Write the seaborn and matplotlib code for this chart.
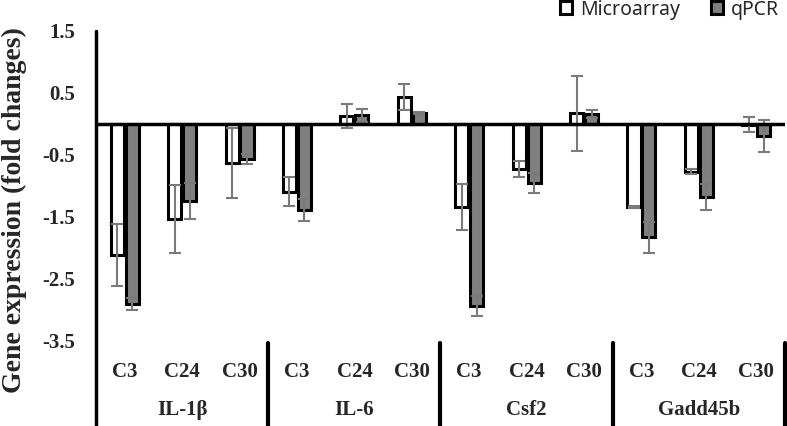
import matplotlib
matplotlib.use("Agg")
import matplotlib.pyplot as plt
import seaborn as sns
import pandas as pd
import numpy as np

# data
genes = ["IL-1β", "IL-6", "Csf2", "Gadd45b"]
times = ["C3", "C24", "C30"]
microarray = [-2.12, -1.53, -0.63, -1.09, 0.13, 0.43, -1.34, -0.73, 0.17, -1.34, -0.77, -0.01]
microarray_err = [0.50, 0.55, 0.56, 0.23, 0.20, 0.21, 0.37, 0.13, 0.60, 0.02, 0.04, 0.12]
qpcr = [-2.90, -1.24, -0.57, -1.39, 0.14, 0.18, -2.94, -0.95, 0.16, -1.83, -1.17, -0.19]
qpcr_err = [0.10, 0.29, 0.08, 0.18, 0.10, 0.02, 0.16, 0.16, 0.06, 0.25, 0.21, 0.26]

keys = [g + " " + t for g in genes for t in times]
df = pd.DataFrame({
    "key": keys * 2,
    "value": microarray + qpcr,
    "method": ["Microarray"] * len(keys) + ["qPCR"] * len(keys),
})

sns.set_style("white")
plt.rcParams["font.family"] = ["Liberation Serif", "DejaVu Serif"]
plt.rcParams["font.weight"] = "bold"

fig = plt.figure(figsize=(7.87, 4.26), dpi=100)
ax = fig.add_axes([96 / 787, 85 / 426, 689 / 787, 310 / 426])

sns.barplot(data=df, x="key", y="value", hue="method", order=keys,
            palette={"Microarray": "white", "qPCR": "#808080"},
            edgecolor="black", linewidth=2.2, width=0.52, gap=0.12,
            errorbar=None, ax=ax)

# error bars on top of each container
for cont, errs in zip(ax.containers, [microarray_err, qpcr_err]):
    xs = [p.get_x() + p.get_width() / 2 for p in cont.patches]
    ys = [p.get_height() for p in cont.patches]
    ax.errorbar(xs, ys, yerr=errs, fmt="none", ecolor="#7a7a7a",
                elinewidth=1.5, capsize=4, capthick=1.5, zorder=5)

ax.axhline(0, color="black", lw=2.5, zorder=6)
ax.set_xlim(-0.5, 11.5)
ax.set_ylim(-3.5, 1.5)
ax.set_yticks([1.5, 0.5, -0.5, -1.5, -2.5, -3.5])
ax.set_yticklabels(["1.5", "0.5", "-0.5", "-1.5", "-2.5", "-3.5"])
ax.tick_params(axis="y", length=0, pad=15, labelsize=15)
ax.set_xticks(range(len(keys)))
ax.set_xticklabels(times * len(genes), fontsize=15, fontweight="bold")
ax.tick_params(axis="x", length=0, pad=15)

for s in ["top", "right", "bottom", "left"]:
    ax.spines[s].set_visible(False)

# left axis line runs down through the category labels
ax.axvline(-0.5, ymin=-0.28, ymax=1, color="black", lw=2.5, clip_on=False)
for b in [2.5, 5.5, 8.5, 11.5]:
    ax.axvline(b, ymin=-0.28, ymax=-0.006, color="black", lw=3, clip_on=False)

for i, g in enumerate(genes):
    ax.text(i * 3 + 1, -0.223, g, transform=ax.get_xaxis_transform(),
            ha="center", va="center", fontsize=15, fontweight="bold")

ax.set_xlabel("")
ax.set_ylabel("Gene expression (fold changes)", fontsize=20, fontweight="bold")
ax.yaxis.set_label_coords(-0.0995, 0.4226)

sns.move_legend(ax, "upper right", bbox_to_anchor=(0.995, 1.01),
                bbox_transform=fig.transFigure, ncol=2, frameon=False, title=None,
                prop={"family": "Noto Sans", "size": 14, "weight": "normal"},
                handlelength=0.62, handleheight=0.62, handletextpad=0.4,
                columnspacing=1.6, borderaxespad=0, borderpad=0.2)

fig.savefig("out.png", dpi=100)
